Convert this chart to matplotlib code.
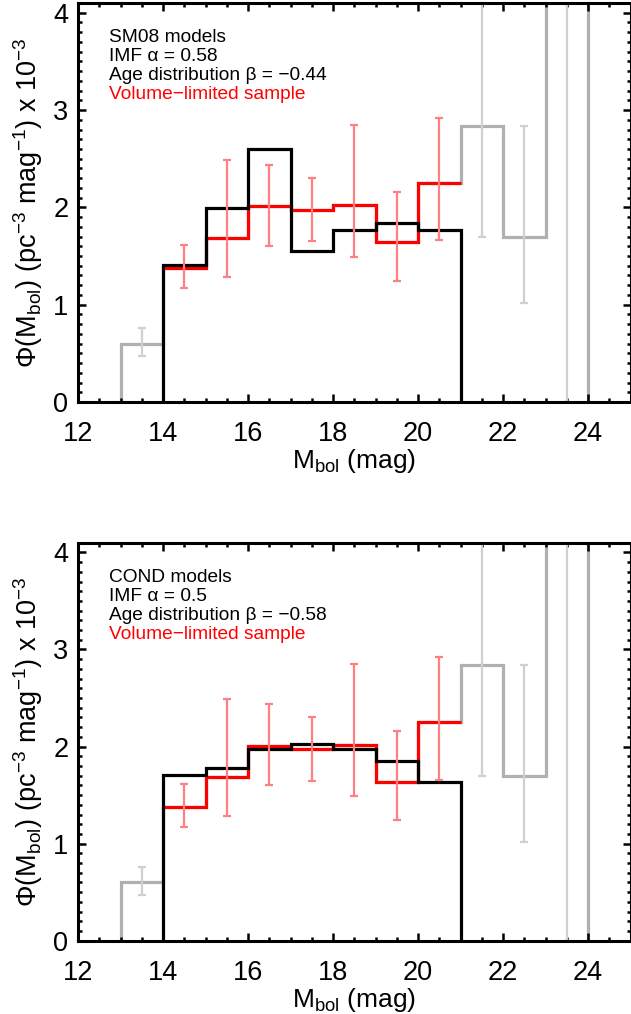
import matplotlib
matplotlib.use('Agg')
import matplotlib.pyplot as plt
from matplotlib.ticker import MultipleLocator
import numpy as np

plt.rcParams['font.family'] = ['Liberation Sans', 'DejaVu Sans']
plt.rcParams['mathtext.fontset'] = 'custom'
plt.rcParams['mathtext.rm'] = 'Liberation Sans'
plt.rcParams['mathtext.it'] = 'Liberation Sans'

# bin edges (Mbol, mag)
edges_full = np.arange(13, 25)          # full sample, 13..24
edges_vl = np.arange(14, 22)            # volume-limited, 14..21

# full sample (grey), values in 1e-3 pc^-3 mag^-1 (last bin is off the plot)
phi_full = [0.60, 1.38, 1.69, 2.01, 1.97, 2.02, 1.64, 2.25, 2.84, 1.70, 5.9]
# error bars only shown outside the volume-limited range
err_full_x = [13.5, 21.5, 22.5, 23.5]
err_full_y = [0.60, 2.84, 1.70, 5.9]
err_full_lo = [0.47, 1.70, 1.02, 0.0]
err_full_hi = [0.76, 4.8, 2.84, 12.0]

# volume-limited sample (red)
phi_vl = [1.38, 1.69, 2.01, 1.97, 2.02, 1.64, 2.25]
phi_vl_lo = [1.17, 1.28, 1.60, 1.65, 1.49, 1.24, 1.66]
phi_vl_hi = [1.61, 2.49, 2.44, 2.30, 2.85, 2.16, 2.92]

# model predictions (black)
phi_sm08 = [1.41, 1.99, 2.60, 1.55, 1.77, 1.84, 1.77]
phi_cond = [1.71, 1.78, 1.97, 2.03, 1.97, 1.85, 1.63]

panels = [
    (phi_sm08, ['SM08 models', 'IMF \u03b1 = 0.58', 'Age distribution \u03b2 = \u22120.44']),
    (phi_cond, ['COND models', 'IMF \u03b1 = 0.5', 'Age distribution \u03b2 = \u22120.58']),
]

fig = plt.figure(figsize=(6.31, 10.14), dpi=100)
W, H = 631., 1014.
rects = [[78/W, 1 - 402/H, 552.5/W, 399/H],
         [78/W, 1 - 940.7/H, 552.5/W, 398/H]]

for rect, (phi_mod, lines) in zip(rects, panels):
    ax = fig.add_axes(rect)

    # full sample: error bars then histogram
    ax.errorbar(err_full_x, err_full_y,
                yerr=[np.array(err_full_y) - np.array(err_full_lo),
                      np.array(err_full_hi) - np.array(err_full_y)],
                fmt='none', ecolor='#d0d0d0', elinewidth=1.6, capsize=3.2, capthick=1.6)
    ax.stairs(phi_full, edges_full, baseline=0, color='#b0b0b0', lw=2.3)

    # volume-limited sample
    xc = edges_vl[:-1] + 0.5
    ax.errorbar(xc, phi_vl,
                yerr=[np.array(phi_vl) - np.array(phi_vl_lo),
                      np.array(phi_vl_hi) - np.array(phi_vl)],
                fmt='none', ecolor='#ff8080', elinewidth=1.6, capsize=3.2, capthick=1.6)
    ax.stairs(phi_vl, edges_vl, baseline=None, color='red', lw=2.3)

    # model
    ax.stairs(phi_mod, edges_vl, baseline=0, color='black', lw=2.3)

    ax.set_xlim(12, 25)
    ax.set_ylim(0, 4.1)
    ax.xaxis.set_major_locator(MultipleLocator(2))
    ax.xaxis.set_minor_locator(MultipleLocator(0.5))
    ax.yaxis.set_major_locator(MultipleLocator(1))
    ax.yaxis.set_minor_locator(MultipleLocator(0.1))
    ax.tick_params(which='both', direction='in', top=True, right=True, width=1.8)
    ax.tick_params(which='major', length=6)
    ax.tick_params(which='minor', length=3)
    ax.tick_params(axis='x', which='both', pad=14, labelsize=19.5)
    ax.tick_params(axis='y', which='both', pad=7, labelsize=19.5)
    for s in ax.spines.values():
        s.set_linewidth(2.2)

    ax.set_xlabel('M$_{\\rm bol}$ (mag)', fontsize=19, labelpad=0)
    ax.set_ylabel('\u03a6(M$_{\\rm bol}$) (pc$^{\u22123}$ mag$^{\u22121}$) x 10$^{\u22123}$',
                  fontsize=19.5, labelpad=6)

    ys = [0.913, 0.865, 0.818]
    for y, t in zip(ys, lines):
        ax.text(0.056, y, t, transform=ax.transAxes, va='center', ha='left',
                fontsize=13.8)
    ax.text(0.056, 0.770, 'Volume\u2212limited sample', transform=ax.transAxes,
            va='center', ha='left', fontsize=13.8, color='red')

plt.savefig('out.png', dpi=100)
